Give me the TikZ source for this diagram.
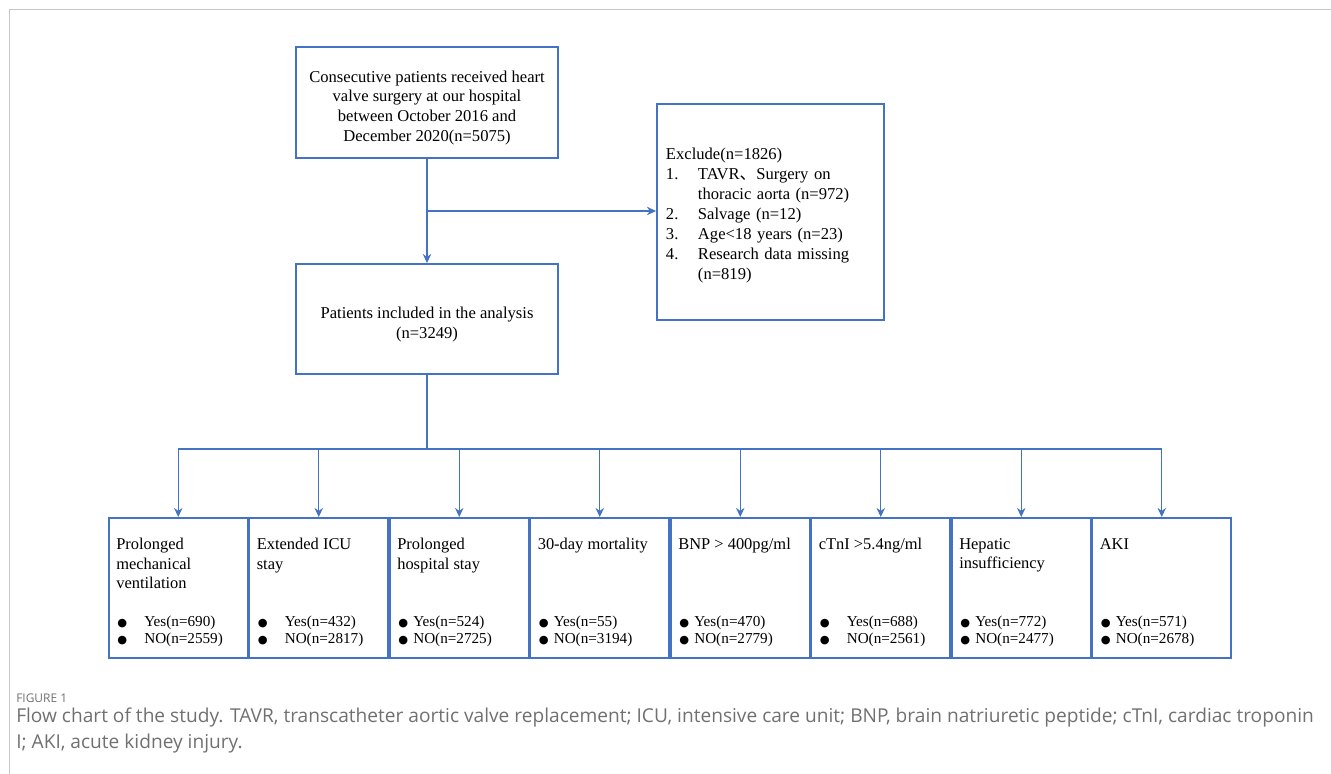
\documentclass[tikz,border=0pt]{standalone}
\usepackage{fontspec}
\setmainfont{Liberation Serif}
\newfontfamily\capfont{Open Sans}
\newfontfamily\cjkfont{Noto Sans CJK SC}
\newfontfamily\symfont{DejaVu Sans}
\usepackage{tikz}
\usetikzlibrary{arrows.meta,positioning,calc}
\usepackage{xcolor}
\definecolor{boxblue}{HTML}{4472C4}
\definecolor{capgray}{HTML}{707070}
\newcommand{\bdot}[1]{\makebox[#1][l]{\symfont\fontsize{8}{8}\selectfont ●}}
\newcommand{\toppad}[1]{\rule{0pt}{#1}}

\begin{document}
\begin{tikzpicture}[x=0.025cm, y=-0.025cm,
    box/.style={draw=boxblue, line width=1.3pt, inner sep=0pt, font=\fontsize{11.8}{14.2}\selectfont},
    outbox/.style={draw=boxblue, line width=1.3pt, minimum width=3.475cm, minimum height=3.5cm},
    otitle/.style={anchor=north west, inner sep=0pt, align=left, font=\fontsize{11.7}{13.9}\selectfont},
    olist/.style={anchor=north west, inner sep=0pt, align=left, font=\fontsize{10.8}{11.9}\selectfont},
    arr/.style={draw=boxblue, line width=0.9pt, -{Stealth[length=6.5pt,width=6pt]}},
    link/.style={draw=boxblue, line width=0.9pt}]
            \useasboundingbox (0,0) rectangle (1331,774);
            % Frame
            \draw[gray!45, line width=0.7pt] (9,774) -- (9,9) -- (1331,9);
            
            % Cohort
            \node[box, minimum width=6.55cm, minimum height=2.775cm, align=center] (cohort) at (427,102.5) {\toppad{16pt}Consecutive patients received heart\\valve surgery at our hospital\\between October 2016 and\\December 2020(n=5075)};
            
            % Exclusion
            \node[box, minimum height=5.4cm, text width=5.225cm, inner xsep=0.225cm, align=left] (excl) at (770.5,212) {\toppad{13pt}Exclude(n=1826)\\
                \makebox[0.8cm][l]{1.}TAVR{\cjkfont 、}Surgery on\\
                \hspace*{0.8cm}thoracic aorta (n=972)\\
                \makebox[0.8cm][l]{2.}Salvage (n=12)\\
                \makebox[0.8cm][l]{3.}Age<18 years (n=23)\\
                \makebox[0.8cm][l]{4.}Research data missing\\
                \hspace*{0.8cm}(n=819)};
            
            % Included
            \node[box, minimum width=6.55cm, minimum height=2.75cm, align=center] (incl) at (427,319) {\toppad{16pt}Patients included in the analysis\\(n=3249)};
            
            % Outcomes
            \node[outbox] (o1) at (178.25,588) {};
            \node[outbox] (o2) at (318.75,588) {};
            \node[outbox] (o3) at (459.25,588) {};
            \node[outbox] (o4) at (599.75,588) {};
            \node[outbox] (o5) at (740.25,588) {};
            \node[outbox] (o6) at (880.75,588) {};
            \node[outbox] (o7) at (1021.25,588) {};
            \node[outbox] (o8) at (1161.75,588) {};
            
            \node[otitle] (t1) at (116,538) {Prolonged\\mechanical\\ventilation};
            \node[otitle] (t2) at (256.5,538) {Extended ICU\\stay};
            \node[otitle] (t3) at (397,538) {Prolonged\\hospital stay};
            \node[otitle] (t4) at (537.5,538) {30-day mortality};
            \node[otitle] (t5) at (678,538) {BNP > 400pg/ml};
            \node[otitle] (t6) at (818.5,538) {cTnI >5.4ng/ml};
            \node[otitle] (t7) at (959,538) {Hepatic\\insufficiency};
            \node[otitle] (t8) at (1099.5,538) {AKI};
            
            \node[olist] (l1) at (117,616) {\bdot{0.675cm}Yes(n=690)\\\bdot{0.675cm}NO(n=2559)};
            \node[olist] (l2) at (257.5,616) {\bdot{0.675cm}Yes(n=432)\\\bdot{0.675cm}NO(n=2817)};
            \node[olist] (l3) at (398,616) {\bdot{0.375cm}Yes(n=524)\\\bdot{0.375cm}NO(n=2725)};
            \node[olist] (l4) at (538.5,616) {\bdot{0.375cm}Yes(n=55)\\\bdot{0.375cm}NO(n=3194)};
            \node[olist] (l5) at (679,616) {\bdot{0.375cm}Yes(n=470)\\\bdot{0.375cm}NO(n=2779)};
            \node[olist] (l6) at (819.5,616) {\bdot{0.675cm}Yes(n=688)\\\bdot{0.675cm}NO(n=2561)};
            \node[olist] (l7) at (960,616) {\bdot{0.375cm}Yes(n=772)\\\bdot{0.375cm}NO(n=2477)};
            \node[olist] (l8) at (1100.5,616) {\bdot{0.375cm}Yes(n=571)\\\bdot{0.375cm}NO(n=2678)};
            
            % Connectors
            \coordinate (split) at (427,211);
            \coordinate (bus) at (427,449);
            \draw[arr] (cohort) -- (incl);
            \draw[arr] (split) -- (split -| excl.west);
            \draw[link] (incl) -- (bus);
            \draw[link] (o1.north |- bus) -- (o8.north |- bus);
            \foreach \i in {1,...,8}
                \draw[arr] (o\i.north |- bus) -- (o\i.north);
            
            % Caption
            \node[anchor=west, inner sep=0pt, text=capgray, font=\capfont\fontsize{8.5}{10}\selectfont] (fig) at (16,698) {FIGURE 1};
            \node[anchor=west, inner sep=0pt, align=left, text=capgray, font=\capfont\fontsize{13.6}{18.5}\selectfont] (cap) at (16,730) {Flow chart of the study. TAVR, transcatheter aortic valve replacement; ICU, intensive care unit; BNP, brain natriuretic peptide; cTnI, cardiac troponin\\I; AKI, acute kidney injury.};
        \end{tikzpicture}
\end{document}
